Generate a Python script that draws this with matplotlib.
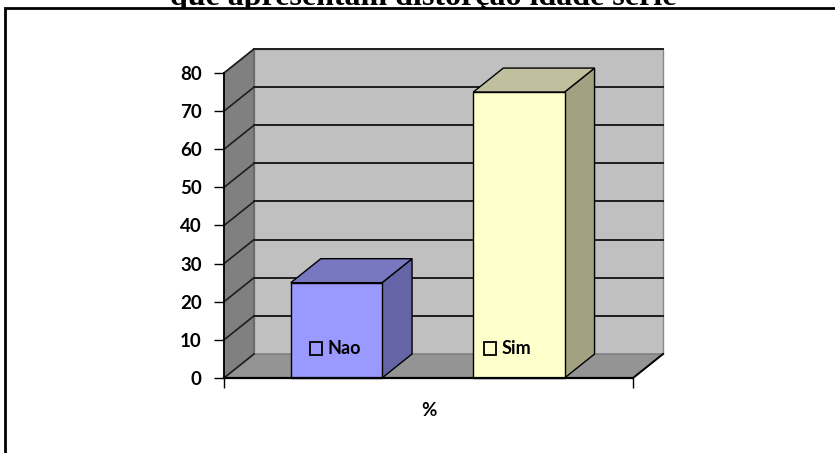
import matplotlib
matplotlib.use("Agg")
import matplotlib.pyplot as plt
from matplotlib.patches import Polygon, Rectangle, Patch
from matplotlib.lines import Line2D

# --- data -------------------------------------------------------------
title = "que apresentam distorção idade série"
category = "%"
series_names = ["Nao", "Sim"]
series_values = [25, 75]
y_ticks = [0, 10, 20, 30, 40, 50, 60, 70, 80]

# --- styling ----------------------------------------------------------
front_colors = ["#9999ff", "#ffffcc"]
top_colors = ["#7878c0", "#c0c09e"]
side_colors = ["#6464a6", "#a2a282"]
WALL_BACK = "#c0c0c0"
WALL_SIDE = "#808080"
FLOOR = "#949494"
DEPTH_X, DEPTH_Y = 30, 24   # depth of the 3-D box, in pixels
BAR_WIDTH = 0.5
XMIN, XMAX = -0.616, 1.625
YMAX = 80
FONT = "Lato"

W, H, DPI = 835, 453, 100
fig = plt.figure(figsize=(W / DPI, H / DPI), dpi=DPI)
fig.patch.set_facecolor("white")

ax = fig.add_axes([224 / W, 75 / H, 409 / W, 305 / H])
ax.set_xlim(XMIN, XMAX)
ax.set_ylim(0, YMAX)
ax.set_facecolor("none")
ax.set_zorder(2)


def back(x, y):
    """Project a front-plane data point onto the back plane."""
    px, py = ax.transData.transform((x, y))
    return tuple(ax.transData.inverted().transform((px + DEPTH_X, py + DEPTH_Y)))


def poly(pts, fc, ec, lw=1.0, z=1):
    ax.add_patch(Polygon(pts, closed=True, facecolor=fc, edgecolor=ec,
                         linewidth=lw, zorder=z, clip_on=False))


def seg(p, q, color="black", lw=1.3, z=1.5):
    ax.add_line(Line2D([p[0], q[0]], [p[1], q[1]], color=color, lw=lw,
                       zorder=z, clip_on=False))


# walls and floor
poly([back(XMIN, 0), back(XMAX, 0), back(XMAX, YMAX), back(XMIN, YMAX)],
     WALL_BACK, "#8a8a8a", 1.0, 0.5)
poly([(XMIN, 0), (XMIN, YMAX), back(XMIN, YMAX), back(XMIN, 0)],
     WALL_SIDE, "#606060", 1.0, 0.6)
poly([(XMIN, 0), (XMAX, 0), back(XMAX, 0), back(XMIN, 0)],
     FLOOR, "#7a7a7a", 1.0, 0.7)

# gridlines on the back and side walls
for v in y_ticks[1:]:
    seg(back(XMIN, v), back(XMAX, v), "#1e1e1e", 1.4, 0.9)
    seg((XMIN, v), back(XMIN, v), "#1e1e1e", 1.2, 0.9)
seg((XMIN, 0), back(XMIN, 0), "#1e1e1e", 1.2, 0.9)
seg((XMAX, 0), back(XMAX, 0), "black", 1.4, 0.9)

# 3-D bars
for i, (val, fc, tc, sc) in enumerate(zip(series_values, front_colors,
                                          top_colors, side_colors)):
    x0, x1 = i - BAR_WIDTH / 2, i + BAR_WIDTH / 2
    poly([(x1, 0), back(x1, 0), back(x1, val), (x1, val)], sc, "black", 1.0, 2)
    poly([(x0, val), (x1, val), back(x1, val), back(x0, val)], tc, "black", 1.0, 2)
    ax.add_patch(Rectangle((x0, 0), BAR_WIDTH, val, facecolor=fc,
                           edgecolor="black", linewidth=1.0, zorder=2.1,
                           clip_on=False))

# axes
for s in ("top", "right"):
    ax.spines[s].set_visible(False)
ax.spines["left"].set_linewidth(1.3)
ax.spines["bottom"].set_linewidth(1.6)
ax.spines["left"].set_zorder(3)
ax.spines["bottom"].set_zorder(3)
ax.set_yticks(y_ticks)
ax.set_yticklabels([str(t) for t in y_ticks], fontsize=13.5, fontweight="bold",
                   family=FONT)
ax.tick_params(axis="y", direction="out", length=7, width=1.0, pad=9)
ax.set_xticks([XMIN, XMAX])
ax.set_xticklabels(["", ""])
ax.tick_params(axis="x", direction="out", length=7, width=1.0)
ax.set_xticks([(XMIN + XMAX) / 2], minor=True)
ax.set_xticklabels([category], minor=True, fontsize=13.5, fontweight="bold",
                   family=FONT)
ax.tick_params(axis="x", which="minor", length=0, pad=17)

# legend entries placed inside the bars
legend_pos = [(310, 349), (484, 349)]
for name, (lx, ly) in zip(series_names, legend_pos):
    leg = fig.legend(handles=[Patch(facecolor="none", edgecolor="black",
                                    linewidth=1.3)],
                     labels=[name], loc="center left",
                     bbox_to_anchor=(lx / W, 1 - ly / H),
                     frameon=False, borderpad=0, borderaxespad=0,
                     handlelength=0.65, handleheight=0.75, handletextpad=0.3,
                     prop={"family": FONT, "weight": "bold", "size": 13})
    leg.set_zorder(5)

# chart frame (white box that covers the lower part of the title)
fig.add_artist(Rectangle((5 / W, -0.1), 1.2, 1.1 - 8 / H, transform=fig.transFigure,
                         facecolor="white", edgecolor="black", linewidth=2.0,
                         zorder=1.5))

# title, partly above the top edge
fig.text(423 / W, 1 - 4.5 / H, title, ha="center", va="baseline",
         family="Liberation Serif", fontweight="bold", fontsize=23, zorder=1)

fig.savefig("out.png", dpi=DPI)
